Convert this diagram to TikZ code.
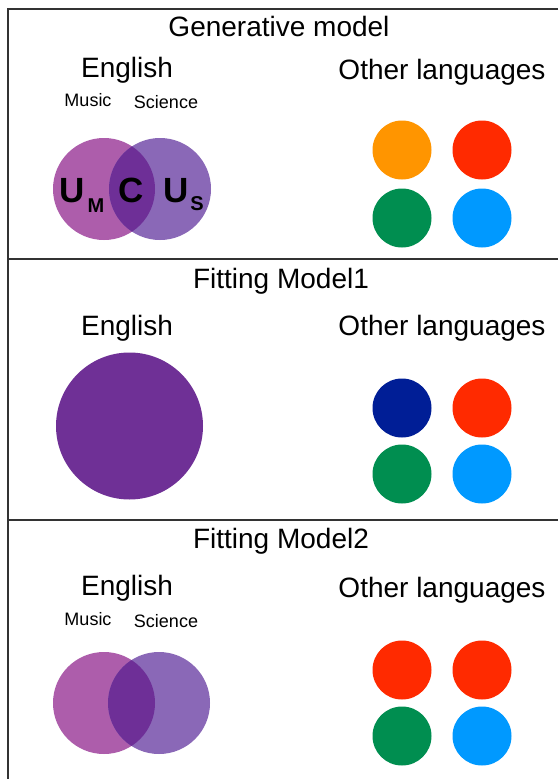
\documentclass[tikz,border=0pt]{standalone}
\usepackage{fontspec}
\setmainfont{Liberation Sans}
\definecolor{framec}{HTML}{333333}
\definecolor{musicc}{HTML}{AD5DAB}
\definecolor{sciencec}{HTML}{8A68B7}
\definecolor{overlapc}{HTML}{6E2F97}
\definecolor{bigc}{HTML}{6F3096}
\definecolor{orangec}{HTML}{FF9500}
\definecolor{redc}{HTML}{FF2A00}
\definecolor{greenc}{HTML}{008E50}
\definecolor{bluec}{HTML}{0099FF}
\definecolor{navyc}{HTML}{001E96}
\begin{document}
\begin{tikzpicture}[x=1pt,y=-1pt,
  frame/.style={draw=framec, line width=1.3pt},
  title/.style={font=\fontsize{28}{30}\selectfont, anchor=base, inner sep=0pt},
  small/.style={font=\fontsize{18}{20}\selectfont, anchor=base, inner sep=0pt},
  bigl/.style={font=\fontsize{35}{40}\selectfont\bfseries, anchor=base, inner sep=0pt},
  subl/.style={font=\fontsize{20}{22}\selectfont\bfseries, anchor=base, inner sep=0pt},
  dot/.style={circle, minimum size=59pt, inner sep=0pt, draw=none}]
\useasboundingbox (0,0) rectangle (558,779);
\fill[white] (0,0) rectangle (558,779);
% frame
\coordinate (tr) at (558,9);
\coordinate (tl) at (8,9);
\coordinate (bl) at (8,779);
\coordinate (d1l) at (8,259);
\coordinate (d1r) at (558,259);
\coordinate (d2l) at (8,520);
\coordinate (d2r) at (558,520);
\draw[frame] (tr) -- (tl) -- (bl);
\draw[frame] (d1l) -- (d1r);
\draw[frame] (d2l) -- (d2r);

% ---------- Panel 1 ----------
\node[title] (t1) at (279,36) {Generative model};
\node[title] (e1) at (127,77) {English};
\node[title] (o1) at (442,79) {Other languages};
\node[small] (m1) at (88,106) {Music};
\node[small] (s1) at (166,108) {Science};
\fill[musicc] (104,189) circle[radius=51pt];
\fill[sciencec] (160,189) circle[radius=51pt];
\begin{scope}
  \clip (104,189) circle[radius=51pt];
  \fill[overlapc] (160,189) circle[radius=51pt];
\end{scope}
\node[bigl] (u1) at (72,202) {U};
\node[subl] (um) at (96,212) {M};
\node[bigl] (c1) at (131,202) {C};
\node[bigl] (u2) at (176,202) {U};
\node[subl] (us) at (197,210) {S};
\node[dot, fill=orangec] (a1) at (402,150) {};
\node[dot, fill=redc] (a2) at (482,150) {};
\node[dot, fill=greenc] (a3) at (402,218) {};
\node[dot, fill=bluec] (a4) at (482,218) {};

% ---------- Panel 2 ----------
\node[title] (t2) at (281,288) {Fitting Model1};
\node[title] (e2) at (127,335) {English};
\node[title] (o2) at (442,335) {Other languages};
\node[circle, minimum size=147pt, inner sep=0pt, fill=bigc] (bg) at (129.5,426) {};
\node[dot, fill=navyc] (b1) at (402,408) {};
\node[dot, fill=redc] (b2) at (482,408) {};
\node[dot, fill=greenc] (b3) at (402,474) {};
\node[dot, fill=bluec] (b4) at (482,474) {};

% ---------- Panel 3 ----------
\node[title] (t3) at (281,548) {Fitting Model2};
\node[title] (e3) at (127,595) {English};
\node[title] (o3) at (442,597) {Other languages};
\node[small] (m3) at (88,625) {Music};
\node[small] (s3) at (166,627) {Science};
\fill[musicc] (104,703) circle[radius=51pt];
\fill[sciencec] (159,703) circle[radius=51pt];
\begin{scope}
  \clip (104,703) circle[radius=51pt];
  \fill[overlapc] (159,703) circle[radius=51pt];
\end{scope}
\node[dot, fill=redc] (c1d) at (402,670) {};
\node[dot, fill=redc] (c2d) at (482,670) {};
\node[dot, fill=greenc] (c3d) at (402,736) {};
\node[dot, fill=bluec] (c4d) at (482,736) {};
\end{tikzpicture}
\end{document}
